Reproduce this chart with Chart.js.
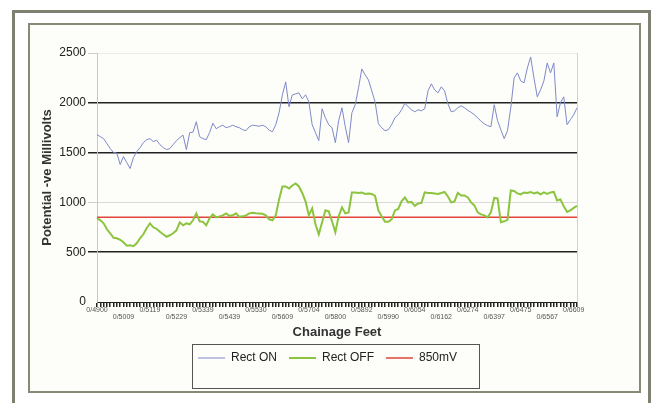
<!DOCTYPE html>
<html>
<head>
<meta charset="utf-8">
<script src="https://cdn.jsdelivr.net/npm/chart.js@4/dist/chart.umd.min.js"></script>
<style>
  html, body { margin: 0; padding: 0; width: 658px; height: 403px; overflow: hidden; background: #ffffff; }
  .outer { position: absolute; left: 12px; top: 10px; width: 633px; height: 420px; border: 3px solid #7e8070; }
  .inner { position: absolute; left: 28px; top: 23px; width: 609px; height: 366px; border: 2px solid #878a76; background: #fdfdf9; }
  #chart { position: absolute; left: 0; top: 0; }
</style>
</head>
<body>
<div class="outer"></div>
<div class="inner"></div>
<canvas id="chart" width="658" height="403"></canvas>
<script>
// Chainage labels shown along the x axis (one every 8 readings, two staggered rows)
const tickLabels = ['0/4900', '0/5009', '0/5119', '0/5229', '0/5339', '0/5439', '0/5530', '0/5609',
  '0/5704', '0/5800', '0/5892', '0/5990', '0/6054', '0/6162', '0/6274', '0/6397', '0/6475',
  '0/6567', '0/6609'];
const labelEvery = 8;

// Pipe-to-soil potential, rectifier switched on (-mV)
const rectOn = [
  1680, 1660, 1640, 1590, 1540, 1500, 1495, 1380, 1460, 1400,
  1340, 1450, 1510, 1550, 1600, 1630, 1640, 1610, 1625, 1580,
  1550, 1530, 1540, 1580, 1620, 1650, 1675, 1530, 1700, 1705,
  1810, 1660, 1640, 1630, 1700, 1795, 1740, 1760, 1775, 1750,
  1760, 1775, 1760, 1750, 1730, 1720, 1760, 1775, 1770, 1765,
  1775, 1760, 1725, 1710, 1780, 1900, 2080, 2210, 1960, 2080,
  2090, 2100, 2040, 2080, 2010, 1780, 1700, 1620, 1940, 1850,
  1780, 1750, 1600, 1820, 1950, 1760, 1600, 1900, 1980, 2150,
  2340, 2280, 2230, 2120, 2010, 1790, 1750, 1720, 1730, 1780,
  1850, 1880, 1930, 1995, 1960, 1930, 1910, 1930, 1920, 1940,
  2120, 2190, 2130, 2100, 2160, 2120, 1990, 1910, 1920, 1950,
  1970, 1950, 1925, 1905, 1880, 1850, 1815, 1790, 1770, 1760,
  1980, 1820, 1730, 1640, 1720, 1950, 2250, 2300, 2220, 2200,
  2350, 2460, 2250, 2060, 2130, 2220, 2400, 2300, 2400, 1860,
  2000, 2060, 1780, 1830, 1880, 1950
];

// Pipe-to-soil potential, rectifier switched off (-mV)
const rectOff = [
  843, 820, 790, 730, 690, 645, 640, 625, 600, 565,
  570, 560, 590, 640, 680, 740, 790, 750, 735, 705,
  680, 655, 670, 690, 720, 800, 770, 790, 780, 820,
  890, 810, 805, 770, 840, 880, 850, 860, 870, 890,
  865, 870, 890, 855, 860, 870, 890, 895, 890, 888,
  885, 870, 830, 820, 870, 1030, 1160, 1160, 1140, 1170,
  1190, 1160, 1095, 1010, 870, 940, 780, 680, 800, 920,
  910, 810, 700, 860, 950, 890, 900, 1100, 1100, 1095,
  1100, 1085, 1090, 1085, 1065, 920, 860, 805, 805, 830,
  920, 935, 1010, 1050, 1000, 1005, 965, 990, 995, 1100,
  1095, 1095, 1090, 1085, 1095, 1105, 1060, 1000, 1010, 1095,
  1070, 1070, 1050, 1000, 970, 900, 880, 870, 850, 900,
  1045, 1040, 800, 810, 825, 1120, 1115, 1090, 1080, 1100,
  1095, 1105, 1090, 1100, 1080, 1100, 1085, 1100, 1105, 1020,
  1030, 960, 905, 920, 945, 965
];

// Protection criterion
const criterionMv = 850;

const readingIndex = rectOn.map((_, i) => String(i));
const criterion = rectOn.map(() => criterionMv);

Chart.defaults.font.family = "'Liberation Sans', Arial, sans-serif";
Chart.defaults.color = '#333';

const chartDecor = {
  id: 'chartDecor',
  afterLayout(chart) {
    // centre the legend row under the plot
    const lg = chart.legend;
    lg.left = 177; lg.right = 478; lg.width = 301;
  },
  beforeDatasetsDraw(chart) {
    const { ctx, chartArea: a } = chart;
    const x = Math.round(a.right) + 0.5;
    ctx.save();
    ctx.strokeStyle = '#d2d2d2';
    ctx.lineWidth = 1;
    ctx.beginPath();
    ctx.moveTo(x, a.top);
    ctx.lineTo(x, a.bottom);
    ctx.stroke();
    ctx.restore();
  },
  afterDraw(chart) {
    const lg = chart.legend;
    const hb = lg.legendHitBoxes;
    if (!hb || !hb.length) return;
    const last = hb[hb.length - 1];
    const left = Math.round(hb[0].left - 6) + 0.5;
    const right = Math.round(last.left + last.width + 22) + 0.5;
    const top = Math.round(lg.top + 4) + 0.5;
    const bottom = Math.round(lg.bottom + 14) + 0.5;
    const { ctx } = chart;
    ctx.save();
    ctx.strokeStyle = '#555';
    ctx.lineWidth = 1;
    ctx.strokeRect(left, top, right - left, bottom - top);
    ctx.restore();
  }
};

function gridColour(v) {
  if (v === 0) return 'rgba(0,0,0,0)';
  if (v === 1000) return '#d9d9d9';
  if (v === 2500) return '#ececec';
  return '#222';
}
function tickColour(v) {
  if (v === 0) return 'rgba(0,0,0,0)';
  if (v === 1000 || v === 2500) return '#cfcfcf';
  return '#222';
}

new Chart(document.getElementById('chart'), {
  type: 'line',
  data: {
    labels: readingIndex,
    datasets: [
      { label: 'Rect ON', data: rectOn, borderColor: '#7f89c9', backgroundColor: '#7f89c9',
        borderWidth: 1, pointRadius: 0, tension: 0 },
      { label: 'Rect OFF', data: rectOff, borderColor: '#8cc43f', backgroundColor: '#8cc43f',
        borderWidth: 2, pointRadius: 0, tension: 0 },
      { label: '850mV', data: criterion, borderColor: '#e2453b', backgroundColor: '#e2453b',
        borderWidth: 1.5, pointRadius: 0, tension: 0 }
    ]
  },
  options: {
    responsive: false,
    animation: false,
    devicePixelRatio: 1,
    layout: { padding: { left: 30, right: 81, top: 53, bottom: 29 } },
    plugins: {
      tooltip: { enabled: false },
      legend: {
        position: 'bottom',
        labels: {
          usePointStyle: true,
          pointStyle: 'line',
          pointStyleWidth: 27,
          padding: 12,
          color: '#222',
          font: { size: 12 }
        }
      }
    },
    scales: {
      x: {
        type: 'category',
        offset: false,
        afterFit(scale) { scale.height = 38; },
        border: { display: true, color: '#222', width: 1 },
        grid: { display: true, drawOnChartArea: false, drawTicks: true, tickLength: 5, color: '#222', lineWidth: 1.5 },
        ticks: {
          autoSkip: false,
          maxRotation: 0,
          minRotation: 0,
          padding: 0,
          color: '#555',
          font: { size: 7, lineHeight: 1 },
          callback(value, index) {
            if (index % labelEvery !== 0) return '';
            const k = index / labelEvery;
            const t = tickLabels[k];
            if (t === undefined) return '';
            return k % 2 === 0 ? t : ['', t];
          }
        },
        title: { display: true, text: 'Chainage Feet', color: '#333', padding: { top: 0, bottom: 0 },
          font: { size: 13, weight: 'bold' } }
      },
      y: {
        min: 0,
        max: 2500,
        afterFit(scale) { scale.width = 67; },
        border: { display: true, color: '#c8c8c8', width: 1 },
        grid: {
          drawTicks: true,
          tickLength: 9,
          color: (c) => gridColour(c.tick.value),
          tickColor: (c) => tickColour(c.tick.value),
          lineWidth: (c) => (c.tick.value === 1000 || c.tick.value === 2500) ? 1 : 1.5
        },
        ticks: { stepSize: 500, padding: 2, color: '#222', font: { size: 12 },
          callback: (v) => String(v) },
        title: { display: true, text: 'Potential -ve Millivolts', color: '#333', padding: { top: 10, bottom: 0 },
          font: { size: 13, weight: 'bold' } }
      }
    }
  },
  plugins: [chartDecor]
});
</script>
</body>
</html>
